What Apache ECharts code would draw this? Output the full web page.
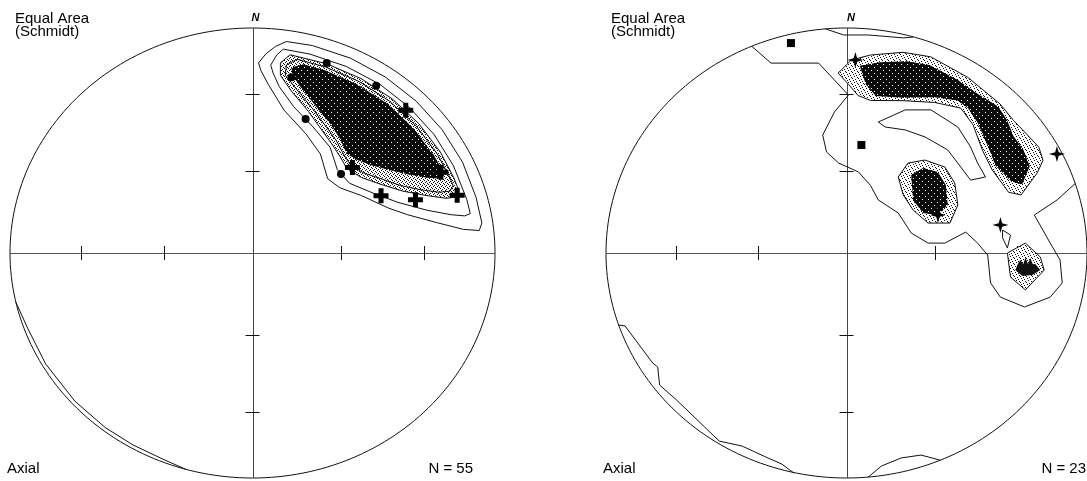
<!DOCTYPE html>
<html>
<head>
<meta charset="utf-8">
<script src="https://cdn.jsdelivr.net/npm/echarts@6/dist/echarts.min.js"></script>
<style>
  html, body { margin: 0; padding: 0; background: #fff; }
  #chart { width: 1087px; height: 481px; }
</style>
</head>
<body>
<div id="chart"></div>
<script>
// Equal-area (Schmidt) nets, lower hemisphere.
// Coordinates: x = east, y = north, primitive circle radius = 1.

const tickPlunges = [30, 60];            // plunge (deg) of the tick marks on the cross
const netTitle = ['Equal Area', '(Schmidt)'];
const netKind = 'Axial';
const countLabels = ['N = 55', 'N = 23'];

// ---- left net (N = 55) ----
const leftLevel1 = [
  [0.025,0.845],[0.055,0.885],[0.095,0.918],[0.14,0.94],[0.247,0.922],[0.404,0.866],
  [0.548,0.782],[0.675,0.675],[0.782,0.548],[0.866,0.404],[0.922,0.247],[0.946,0.133],
  [0.935,0.10],[0.87,0.105],[0.76,0.135],[0.64,0.17],[0.56,0.20],[0.45,0.255],
  [0.36,0.29],[0.31,0.33],[0.28,0.44],[0.22,0.53],[0.13,0.635],[0.065,0.75],[0.035,0.81]
];
const leftLevel2 = [
  [0.075,0.835],[0.10,0.88],[0.127,0.906],[0.237,0.884],[0.387,0.829],[0.525,0.75],
  [0.647,0.647],[0.75,0.525],[0.829,0.387],[0.884,0.237],[0.898,0.175],[0.875,0.165],
  [0.82,0.17],[0.72,0.19],[0.60,0.225],[0.50,0.265],[0.40,0.31],[0.35,0.37],
  [0.32,0.47],[0.25,0.56],[0.17,0.65],[0.11,0.74],[0.085,0.80]
];
const leftLevel3 = [
  [0.115,0.845],[0.155,0.881],[0.306,0.841],[0.448,0.775],[0.575,0.686],[0.686,0.575],
  [0.775,0.448],[0.83,0.335],[0.851,0.277],[0.845,0.25],[0.80,0.243],[0.72,0.255],
  [0.62,0.275],[0.53,0.305],[0.45,0.335],[0.39,0.375],[0.36,0.43],[0.33,0.48],
  [0.29,0.54],[0.23,0.63],[0.16,0.72],[0.115,0.79]
];
const leftLevel4 = [
  [0.14,0.835],[0.183,0.861],[0.301,0.827],[0.44,0.762],[0.566,0.674],[0.674,0.566],
  [0.762,0.44],[0.81,0.344],[0.827,0.301],[0.815,0.275],[0.77,0.27],[0.70,0.28],
  [0.61,0.30],[0.53,0.33],[0.46,0.355],[0.405,0.39],[0.375,0.44],[0.345,0.50],
  [0.305,0.56],[0.245,0.645],[0.18,0.73],[0.135,0.79]
];
const leftCore = [
  [0.16,0.825],[0.209,0.839],[0.296,0.813],[0.433,0.749],[0.556,0.663],[0.663,0.556],
  [0.749,0.433],[0.79,0.352],[0.78,0.33],[0.72,0.335],[0.64,0.35],[0.56,0.37],
  [0.49,0.39],[0.43,0.415],[0.39,0.44],[0.36,0.51],[0.32,0.575],[0.26,0.655],
  [0.20,0.735],[0.165,0.79]
];
const leftRimLens = [
  [-0.976,-0.218],[-0.926,-0.337],[-0.853,-0.493],[-0.732,-0.659],[-0.607,-0.776],
  [-0.493,-0.853],[-0.37,-0.916],[-0.276,-0.961]
];
const leftDots = [[0.161,0.781],[0.306,0.845],[0.51,0.743],[0.219,0.596],[0.365,0.351]];
const leftCrosses = [[0.632,0.634],[0.777,0.359],[0.53,0.254],[0.672,0.237],[0.844,0.257],[0.412,0.38]];

// ---- right net (N = 23) ----
const rightLevel1 = [
  [-0.393,0.918],[-0.314,0.844],[-0.116,0.844],[0.008,0.702],[-0.05,0.627],[-0.099,0.524],
  [-0.083,0.449],[-0.033,0.40],[0.05,0.36],[0.10,0.30],[0.132,0.236],[0.215,0.178],
  [0.269,0.089],[0.339,0.044],[0.409,0.044],[0.496,0.093],[0.545,0.044],[0.587,-0.009],
  [0.599,-0.133],[0.64,-0.196],[0.74,-0.24],[0.847,-0.196],[0.897,-0.133],[0.888,-0.031],
  [0.847,0.044],[0.781,0.169],[0.876,0.236],[0.952,0.31]
];
const rightTopLens = [[-0.087,0.996],[-0.012,0.969],[0.091,0.969],[0.236,0.956],[0.277,0.96]];
const rightBand = [
  [-0.035,0.80],[-0.02,0.815],[0.02,0.858],[0.10,0.88],[0.235,0.892],[0.35,0.872],
  [0.504,0.781],[0.639,0.662],[0.695,0.588],[0.73,0.55],[0.80,0.47],[0.817,0.412],
  [0.793,0.356],[0.726,0.258],[0.674,0.27],[0.606,0.369],[0.566,0.455],[0.526,0.57],
  [0.475,0.644],[0.367,0.669],[0.235,0.677],[0.10,0.678],[0.048,0.70],[0.008,0.75]
];
const rightBandCore = [
  [0.055,0.832],[0.14,0.848],[0.25,0.852],[0.345,0.836],[0.465,0.768],[0.53,0.718],
  [0.632,0.65],[0.668,0.59],[0.694,0.52],[0.736,0.458],[0.762,0.386],[0.73,0.305],
  [0.686,0.318],[0.62,0.388],[0.588,0.475],[0.546,0.578],[0.505,0.645],[0.462,0.678],
  [0.367,0.692],[0.235,0.69],[0.122,0.698],[0.08,0.75]
];
const rightLoop = [
  [0.132,0.582],[0.244,0.636],[0.351,0.636],[0.463,0.56],[0.516,0.471],[0.545,0.40],
  [0.578,0.338],[0.516,0.324],[0.475,0.382],[0.421,0.458],[0.326,0.516],[0.244,0.547],[0.161,0.56]
];
const rightRing = [
  [0.215,0.338],[0.256,0.40],[0.326,0.413],[0.409,0.382],[0.45,0.311],[0.463,0.213],
  [0.43,0.133],[0.339,0.133],[0.277,0.191],[0.236,0.258]
];
const rightBlob = [
  [0.269,0.347],[0.318,0.378],[0.38,0.36],[0.413,0.302],[0.421,0.213],[0.38,0.169],
  [0.318,0.178],[0.277,0.236]
];
const rightHex = [[0.669,0.0],[0.744,0.044],[0.806,-0.018],[0.822,-0.076],[0.744,-0.164],[0.682,-0.107]];
const rightHexCore = [
  [0.702,-0.076],[0.714,-0.045],[0.723,-0.031],[0.735,-0.05],[0.744,-0.02],[0.755,-0.05],
  [0.764,-0.022],[0.775,-0.05],[0.785,-0.049],[0.806,-0.076],[0.773,-0.098],[0.731,-0.102]
];
const rightSmallLens = [[0.649,0.102],[0.682,0.08],[0.669,0.022],[0.649,0.067]];
const rightRimLensSW = [
  [-0.95,-0.32],[-0.921,-0.324],[-0.806,-0.489],[-0.785,-0.507],[-0.777,-0.587],[-0.707,-0.653],
  [-0.529,-0.836],[-0.434,-0.858],[-0.335,-0.907],[-0.269,-0.938],[-0.219,-0.978]
];
const rightRimLensS = [[0.09,-0.996],[0.145,-0.947],[0.227,-0.911],[0.31,-0.898],[0.39,-0.921]];
const rightStars = [[0.037,0.858],[0.38,0.169],[0.64,0.124],[0.875,0.44]];
const rightSquares = [[-0.231,0.933],[0.062,0.48]];

// ---- fill textures (1 = ink) ----
const sparseDots = ['1.....', '...1..', '.1....', '....1.', '..1...', '.....1'];
const mediumDots = ['1...', '..1.', '.1..', '...1'];
const darkSpeckle = ['111111', '111101', '111111', '111111', '101111', '111111'];

function texture(rows) {
  const c = document.createElement('canvas');
  c.width = rows[0].length; c.height = rows.length;
  const g = c.getContext('2d');
  g.fillStyle = '#fff'; g.fillRect(0, 0, c.width, c.height);
  g.fillStyle = '#0a0a0a';
  rows.forEach((r, y) => { for (let x = 0; x < r.length; x++) if (r[x] === '1') g.fillRect(x, y, 1, 1); });
  return { image: c, repeat: 'repeat' };
}
const sparseFill = texture(sparseDots);
const mediumFill = texture(mediumDots);
const darkFill = texture(darkSpeckle);

const INK = '#111';

function shapeSeries(gi, pts, opts) {
  const closed = opts.closed !== false;
  return {
    type: 'custom', xAxisIndex: gi, yAxisIndex: gi, data: pts, silent: true,
    z: opts.z || 3, clip: false,
    renderItem(params, api) {
      if (params.dataIndex !== 0) return null;
      const points = pts.map(p => api.coord(p));
      return {
        type: closed ? 'polygon' : 'polyline',
        shape: { points },
        style: {
          fill: opts.fill || 'none',
          stroke: opts.stroke === undefined ? INK : opts.stroke,
          lineWidth: opts.lineWidth || 1
        }
      };
    }
  };
}

function frameSeries(gi) {
  return {
    type: 'custom', xAxisIndex: gi, yAxisIndex: gi, data: [[0, 0]], silent: true, z: 1, clip: false,
    renderItem(params, api) {
      const ring = [];
      for (let a = 0; a <= 360; a += 1.5) {
        const t = a * Math.PI / 180;
        ring.push(api.coord([Math.cos(t), Math.sin(t)]));
      }
      const snap = v => Math.round(v) + 0.5;
      const w = api.coord([-1, 0]), e = api.coord([1, 0]);
      const n = api.coord([0, 1]), s = api.coord([0, -1]);
      const children = [
        { type: 'polyline', shape: { points: ring }, style: { stroke: INK, lineWidth: 1, fill: 'none' } },
        { type: 'line', shape: { x1: w[0], y1: snap(w[1]), x2: e[0], y2: snap(e[1]) }, style: { stroke: '#555', lineWidth: 1 } },
        { type: 'line', shape: { x1: snap(n[0]), y1: n[1], x2: snap(s[0]), y2: s[1] }, style: { stroke: '#444', lineWidth: 1 } }
      ];
      tickPlunges.forEach(p => {
        const r = Math.SQRT2 * Math.sin((90 - p) / 2 * Math.PI / 180);
        [[r, 0], [-r, 0]].forEach(q => {
          const c = api.coord(q);
          children.push({ type: 'line', shape: { x1: snap(c[0]), y1: c[1] - 7, x2: snap(c[0]), y2: c[1] + 7 }, style: { stroke: INK, lineWidth: 1 } });
        });
        [[0, r], [0, -r]].forEach(q => {
          const c = api.coord(q);
          children.push({ type: 'line', shape: { x1: c[0] - 7, y1: snap(c[1]), x2: c[0] + 7, y2: snap(c[1]) }, style: { stroke: INK, lineWidth: 1 } });
        });
      });
      return { type: 'group', children };
    }
  };
}

function markSeries(gi, pts, symbol, size) {
  return {
    type: 'scatter', xAxisIndex: gi, yAxisIndex: gi, data: pts, symbol, symbolSize: size,
    symbolKeepAspect: true, silent: true, z: 6, itemStyle: { color: '#000', opacity: 1 }
  };
}

const crossPath = 'path://M5,0H10V5H15V10H10V15H5V10H0V5H5Z';
const starPath = 'path://M0,-10L2.2,-2.2L10,0L2.2,2.2L0,10L-2.2,2.2L-10,0L-2.2,-2.2Z';

const axisBase = { type: 'value', min: -1, max: 1, show: false };
const font = '"Liberation Sans", Arial, sans-serif';

function labels(x0, cx, rightEdge, count) {
  return [
    { type: 'text', x: x0, y: 11, style: { text: netTitle[0], font: '15px ' + font, fill: '#000' } },
    { type: 'text', x: x0, y: 24, style: { text: netTitle[1], font: '15px ' + font, fill: '#000' } },
    { type: 'text', x: cx + 3, y: 12, style: { text: 'N', font: 'italic bold 11px ' + font, fill: '#000', align: 'center' } },
    { type: 'text', x: x0 - 8, y: 461, style: { text: netKind, font: '15px ' + font, fill: '#000' } },
    { type: 'text', x: rightEdge, y: 461, style: { text: count, font: '15px ' + font, fill: '#000', align: 'right' } }
  ];
}

const chart = echarts.init(document.getElementById('chart'), null, { renderer: 'canvas' });
chart.setOption({
  animation: false,
  backgroundColor: '#fff',
  grid: [
    { left: 10, top: 28, width: 485, height: 450 },
    { left: 606, top: 28, width: 484, height: 450 }
  ],
  xAxis: [Object.assign({ gridIndex: 0 }, axisBase), Object.assign({ gridIndex: 1 }, axisBase)],
  yAxis: [Object.assign({ gridIndex: 0 }, axisBase), Object.assign({ gridIndex: 1 }, axisBase)],
  graphic: labels(15, 252.5, 473, countLabels[0]).concat(labels(611, 848, 1086, countLabels[1])),
  series: [
    frameSeries(0),
    frameSeries(1),

    // left net
    shapeSeries(0, leftLevel3, { fill: mediumFill, stroke: null, z: 2 }),
    shapeSeries(0, leftCore, { fill: darkFill, stroke: null, z: 2.5 }),
    shapeSeries(0, leftLevel1, {}),
    shapeSeries(0, leftLevel2, {}),
    shapeSeries(0, leftLevel3, {}),
    shapeSeries(0, leftLevel4, {}),
    shapeSeries(0, leftRimLens, { closed: false }),
    markSeries(0, leftDots, 'circle', 8),
    markSeries(0, leftCrosses, crossPath, 15),

    // right net
    shapeSeries(1, rightBand, { fill: sparseFill, stroke: null, z: 2 }),
    shapeSeries(1, rightRing, { fill: sparseFill, stroke: null, z: 2 }),
    shapeSeries(1, rightHex, { fill: sparseFill, stroke: null, z: 2 }),
    shapeSeries(1, rightBandCore, { fill: darkFill, stroke: null, z: 2.5 }),
    shapeSeries(1, rightBlob, { fill: darkFill, stroke: null, z: 2.5 }),
    shapeSeries(1, rightHexCore, { fill: '#111', stroke: null, z: 2.5 }),
    shapeSeries(1, rightLevel1, { closed: false }),
    shapeSeries(1, rightTopLens, { closed: false }),
    shapeSeries(1, rightBand, {}),
    shapeSeries(1, rightLoop, {}),
    shapeSeries(1, rightRing, {}),
    shapeSeries(1, rightHex, {}),
    shapeSeries(1, rightSmallLens, {}),
    shapeSeries(1, rightRimLensSW, { closed: false }),
    shapeSeries(1, rightRimLensS, { closed: false }),
    markSeries(1, rightStars, starPath, 16),
    markSeries(1, rightSquares, 'rect', 8)
  ]
});
</script>
</body>
</html>
